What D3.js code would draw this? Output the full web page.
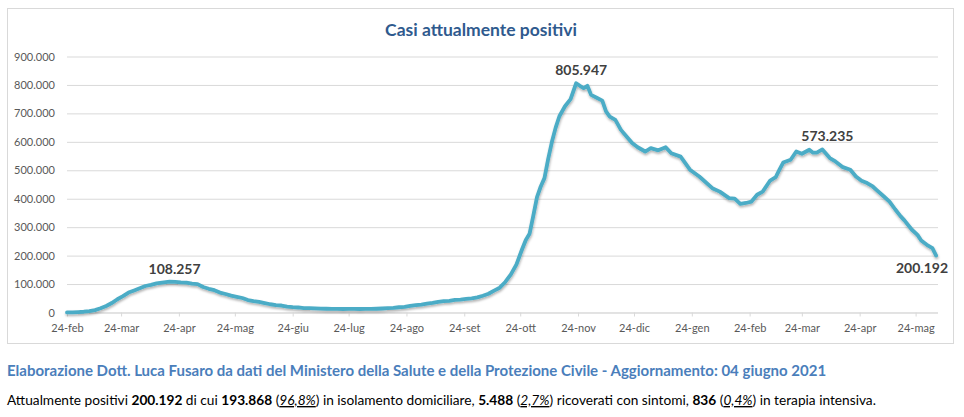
<!DOCTYPE html>
<html>
<head>
<meta charset="utf-8">
<script src="https://cdn.jsdelivr.net/npm/d3@7"></script>
<style>
  body { margin: 0; background: #fff; }
  svg { display: block; font-family: Lato, "Open Sans", sans-serif; }
</style>
</head>
<body>
<svg id="chart" width="964" height="417"></svg>
<script>
// casi attualmente positivi
const dates = [
  "2020-02-24","2020-02-27","2020-03-01","2020-03-04","2020-03-07","2020-03-10","2020-03-13","2020-03-16",
  "2020-03-19","2020-03-22","2020-03-25","2020-03-28","2020-03-31","2020-04-03","2020-04-06","2020-04-09",
  "2020-04-12","2020-04-15","2020-04-18","2020-04-19","2020-04-22","2020-04-25","2020-04-28","2020-05-01",
  "2020-05-04","2020-05-07","2020-05-10","2020-05-13","2020-05-16","2020-05-19","2020-05-22","2020-05-25",
  "2020-05-28","2020-05-31","2020-06-03","2020-06-06","2020-06-09","2020-06-12","2020-06-15","2020-06-18",
  "2020-06-21","2020-06-24","2020-06-27","2020-06-30","2020-07-03","2020-07-06","2020-07-09","2020-07-12",
  "2020-07-15","2020-07-18","2020-07-21","2020-07-24","2020-07-27","2020-07-30","2020-08-02","2020-08-05",
  "2020-08-08","2020-08-11","2020-08-14","2020-08-17","2020-08-20","2020-08-23","2020-08-26","2020-08-29",
  "2020-09-01","2020-09-04","2020-09-07","2020-09-10","2020-09-13","2020-09-16","2020-09-19","2020-09-22",
  "2020-09-25","2020-09-28","2020-10-01","2020-10-04","2020-10-07","2020-10-10","2020-10-13","2020-10-16",
  "2020-10-19","2020-10-22","2020-10-25","2020-10-27","2020-10-29","2020-10-31","2020-11-02","2020-11-04",
  "2020-11-06","2020-11-08","2020-11-10","2020-11-12","2020-11-14","2020-11-17","2020-11-20","2020-11-23",
  "2020-11-25","2020-11-27","2020-11-29","2020-12-01","2020-12-04","2020-12-07","2020-12-09","2020-12-11",
  "2020-12-14","2020-12-17","2020-12-20","2020-12-23","2020-12-26","2020-12-30","2021-01-02","2021-01-06",
  "2021-01-10","2021-01-13","2021-01-18","2021-01-23","2021-01-28","2021-02-04","2021-02-08","2021-02-13",
  "2021-02-16","2021-02-19","2021-02-22","2021-02-25","2021-02-28","2021-03-03","2021-03-07","2021-03-10",
  "2021-03-12","2021-03-14","2021-03-18","2021-03-21","2021-03-24","2021-03-28","2021-03-30","2021-04-01",
  "2021-04-04","2021-04-08","2021-04-11","2021-04-15","2021-04-19","2021-04-22","2021-04-25","2021-04-28",
  "2021-05-01","2021-05-03","2021-05-07","2021-05-10","2021-05-13","2021-05-16","2021-05-18","2021-05-22",
  "2021-05-25","2021-05-27","2021-05-30","2021-06-02","2021-06-04"
];
const positivi = [
  221, 528, 1577, 2706, 4636, 8514, 14955, 23073,
  33190, 46638, 57521, 70065, 77635, 85388, 93187, 96877,
  102253, 105418, 107771, 108257, 107699, 105847, 105205, 101551,
  99980, 89624, 83324, 78457, 70187, 65129, 59322, 55300,
  50966, 43691, 39893, 36976, 32872, 28997, 26078, 24569,
  20972, 18655, 17638, 15563, 15060, 14242, 13303, 13157,
  12919, 12456, 12322, 12482, 12924, 12230, 12456, 12694,
  13179, 14081, 15089, 16014, 18438, 19714, 23035, 25639,
  27817, 31194, 34120, 37503, 39712, 41000, 44098, 45548,
  47718, 49618, 53109, 58903, 65952, 77105, 87193, 107312,
  134003, 169302, 222241, 255090, 276457, 340000, 406000, 443000,
  472348, 540000, 600000, 650000, 690000, 725000, 750000, 805947,
  797000, 789000, 797000, 765000, 755000, 745000, 707000, 689000,
  677000, 642000, 619000, 596000, 581000, 566000, 578000, 570000,
  581000, 560000, 548000, 502000, 478000, 437000, 425000, 402000,
  400000, 382000, 385000, 390000, 414000, 425000, 464000, 476000,
  502000, 527000, 537000, 566000, 558000, 572000, 562000, 562000,
  573235, 543000, 531000, 511000, 502000, 478000, 463000, 455000,
  443000, 431000, 408000, 390000, 363000, 338000, 324000, 291000,
  273000, 253000, 238000, 226000, 200192
];
const labelled = [108257, 805947, 573235, 200192];

const tickDates = [
  "2020-02-24","2020-03-24","2020-04-24","2020-05-24","2020-06-24","2020-07-24","2020-08-24","2020-09-24",
  "2020-10-24","2020-11-24","2020-12-24","2021-01-24","2021-02-24","2021-03-24","2021-04-24","2021-05-24"
];
const tickLabels = [
  "24-feb","24-mar","24-apr","24-mag","24-giu","24-lug","24-ago","24-set",
  "24-ott","24-nov","24-dic","24-gen","24-feb","24-mar","24-apr","24-mag"
];
const yTicks = [0, 100000, 200000, 300000, 400000, 500000, 600000, 700000, 800000, 900000];

const parse = d3.utcParse("%Y-%m-%d");
const it = d3.formatLocale({decimal: ",", thousands: ".", grouping: [3], currency: ["€", ""]});
const fmt = it.format(",d");

const data = dates.map((d, i) => ({date: parse(d), value: positivi[i]}));

const svg = d3.select("#chart");

const plot = {left: 67, right: 938, top: 56.5, bottom: 312.5};

const x = d3.scaleUtc()
  .domain([parse("2020-02-24"), parse("2021-06-05")])
  .range([plot.left, plot.right]);
const y = d3.scaleLinear()
  .domain([0, 900000])
  .range([plot.bottom, plot.top]);

// chart area frame
svg.append("rect")
  .attr("x", 7.5).attr("y", 8.5)
  .attr("width", 946).attr("height", 335)
  .attr("fill", "#fff")
  .attr("stroke", "#d9d9d9");

svg.append("text")
  .attr("x", 481).attr("y", 36)
  .attr("text-anchor", "middle")
  .attr("font-size", 17.5)
  .attr("font-weight", "bold")
  .attr("fill", "#2f5a8e")
  .text("Casi attualmente positivi");

// gridlines + y labels
const yAxis = svg.append("g")
  .attr("transform", `translate(${plot.left},0)`)
  .call(d3.axisLeft(y).tickValues(yTicks).tickSize(-(plot.right - plot.left)).tickPadding(12).tickFormat(fmt));
yAxis.select(".domain").remove();
yAxis.selectAll(".tick line").attr("stroke", "#d9d9d9");
yAxis.selectAll(".tick text")
  .attr("fill", "#595959")
  .attr("font-size", 11)
  .attr("font-family", "Lato, sans-serif");

// x axis
const xAxis = svg.append("g")
  .attr("transform", `translate(0,${plot.bottom})`)
  .call(d3.axisBottom(x).tickValues(tickDates.map(parse)).tickSize(4).tickPadding(8)
    .tickFormat((d, i) => tickLabels[i]));
xAxis.select(".domain").attr("stroke", "#d9d9d9").attr("d", `M${plot.left},0.5H${plot.right}`);
xAxis.selectAll(".tick line").attr("stroke", "#d9d9d9");
xAxis.selectAll(".tick text")
  .attr("fill", "#595959")
  .attr("font-size", 11)
  .attr("font-family", "Lato, sans-serif");

// soft shadow under the line, like the excel one
const defs = svg.append("defs");
const f = defs.append("filter").attr("id", "shadow")
  .attr("x", "-5%").attr("y", "-5%").attr("width", "110%").attr("height", "120%");
f.append("feDropShadow")
  .attr("dx", 0.5).attr("dy", 1.8).attr("stdDeviation", 1.2)
  .attr("flood-color", "#000").attr("flood-opacity", 0.3);

const line = d3.line()
  .x(d => x(d.date))
  .y(d => y(d.value));

svg.append("path")
  .datum(data)
  .attr("fill", "none")
  .attr("stroke", "#4bacc6")
  .attr("stroke-width", 3.8)
  .attr("stroke-linejoin", "round")
  .attr("stroke-linecap", "round")
  .attr("filter", "url(#shadow)")
  .attr("d", line);

// data labels on the peaks and the last value
const last = data[data.length - 1];
svg.append("g")
  .selectAll("text")
  .data(data.filter(d => labelled.includes(d.value)))
  .join("text")
  .attr("x", d => d === last ? Math.min(x(d.date), 948 - 26) : x(d.date) + 5)
  .attr("y", d => d === last ? y(d.value) + 17 : y(d.value) - 8)
  .attr("text-anchor", "middle")
  .attr("font-size", 14)
  .attr("font-weight", "bold")
  .attr("fill", "#404040")
  .text(d => fmt(d.value));

// notes under the chart
svg.append("text")
  .attr("x", 7).attr("y", 376)
  .attr("font-size", 15)
  .attr("font-weight", "bold")
  .attr("fill", "#4a7ebb")
  .text("Elaborazione Dott. Luca Fusaro da dati del Ministero della Salute e della Protezione Civile - Aggiornamento: 04 giugno 2021");

const noteParts = [
  ["Attualmente positivi ", ""], ["200.192", "b"], [" di cui ", ""], ["193.868", "b"], [" (", ""], ["96,8%", "iu"],
  [") in isolamento domiciliare, ", ""], ["5.488", "b"], [" (", ""], ["2,7%", "iu"], [") ricoverati con sintomi, ", ""],
  ["836", "b"], [" (", ""], ["0,4%", "iu"], [") in terapia intensiva.", ""]
];
const note = svg.append("text")
  .attr("x", 7).attr("y", 405)
  .attr("font-size", 13.7)
  .attr("fill", "#000")
  .style("white-space", "pre");
note.selectAll("tspan")
  .data(noteParts)
  .join("tspan")
  .attr("font-weight", d => d[1] === "b" ? "bold" : null)
  .attr("font-style", d => d[1] === "iu" ? "italic" : null)
  .style("text-decoration", d => d[1] === "iu" ? "underline" : null)
  .text(d => d[0]);
</script>
</body>
</html>
